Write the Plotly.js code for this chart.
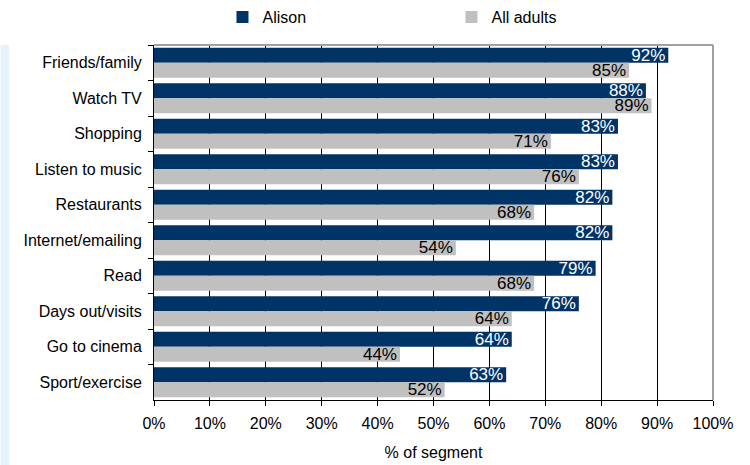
<!DOCTYPE html>
<html>
<head>
<meta charset="utf-8">
<script src="https://cdn.plot.ly/plotly-3.0.1.min.js"></script>
<style>html,body{margin:0;padding:0;background:#fff}#chart{width:750px;height:465px}</style>
</head>
<body>
<div id="chart"></div>
<script>
var categories = ["Friends/family","Watch TV","Shopping","Listen to music","Restaurants","Internet/emailing","Read","Days out/visits","Go to cinema","Sport/exercise"];
var alison = [92,88,83,83,82,82,79,76,64,63];
var allAdults = [85,89,71,76,68,54,68,64,44,52];
var seriesNames = ["Alison","All adults"];
var xTicks = [0,10,20,30,40,50,60,70,80,90,100];

var FONT = "Liberation Sans, Arial, sans-serif";

function pct(arr){ return arr.map(function(v){ return v + "%"; }); }

var traces = [
  {
    type: "bar", orientation: "h", name: seriesNames[0],
    y: categories, x: alison, text: pct(alison),
    textposition: "inside", insidetextanchor: "end", constraintext: "none", textangle: 0,
    textfont: {family: FONT, size: 17, color: "#ffffff"},
    marker: {color: "#003366", line: {width: 0}},
    hoverinfo: "none"
  },
  {
    type: "bar", orientation: "h", name: seriesNames[1],
    y: categories, x: allAdults, text: pct(allAdults),
    textposition: "inside", insidetextanchor: "end", constraintext: "none", textangle: 0,
    textfont: {family: FONT, size: 17, color: "#000000"},
    marker: {color: "#c0c0c0", line: {width: 0}},
    hoverinfo: "none"
  }
];

var layout = {
  width: 750, height: 465,
  margin: {l: 154, r: 37, t: 45, b: 65, pad: 0},
  paper_bgcolor: "#ffffff", plot_bgcolor: "#ffffff",
  font: {family: FONT, size: 16, color: "#000000"},
  barmode: "group", bargap: 0.155, bargroupgap: 0,
  uniformtext: {mode: "show", minsize: 17},
  showlegend: true,
  legend: {
    orientation: "h", xref: "paper", x: 0.1225, xanchor: "left",
    yref: "container", y: 0.963, yanchor: "middle",
    font: {family: FONT, size: 16, color: "#000000"},
    entrywidth: 184, entrywidthmode: "pixels",
    itemwidth: 30, traceorder: "normal", bgcolor: "rgba(0,0,0,0)"
  },
  xaxis: {
    range: [0, 100], tickvals: xTicks, ticktext: xTicks.map(function(v){return v + "%";}),
    showgrid: true, gridcolor: "#000000", gridwidth: 1,
    zeroline: false, showline: true, linecolor: "#000000", linewidth: 1,
    ticks: "outside", ticklen: 5, tickcolor: "#000000",
    tickfont: {family: FONT, size: 16, color: "#000000"},
    ticklabelstandoff: 4,
    title: {text: "% of segment", font: {family: FONT, size: 16, color: "#000000"}, standoff: 15},
    fixedrange: true
  },
  yaxis: {
    type: "category", autorange: "reversed",
    showgrid: false, zeroline: false,
    showline: true, linecolor: "#000000", linewidth: 1,
    ticks: "outside", ticklen: 5, tickcolor: "#000000", tickson: "boundaries",
    tickfont: {family: FONT, size: 16, color: "#000000"},
    ticklabelstandoff: 8,
    fixedrange: true
  },
  shapes: [
    {type: "rect", xref: "paper", yref: "paper", x0: -0.2745, x1: -0.259, y0: -0.183, y1: 1.0,
     fillcolor: "#e6f2fc", line: {width: 0}, layer: "below"},
    {type: "line", xref: "paper", yref: "paper", x0: 0, x1: 1, y0: 1, y1: 1,
     line: {color: "#a0a0a0", width: 2}, layer: "above"},
    {type: "line", xref: "paper", yref: "paper", x0: 1, x1: 1, y0: 0, y1: 1,
     line: {color: "#a0a0a0", width: 2}, layer: "above"}
  ]
};

Plotly.newPlot("chart", traces, layout, {displayModeBar: false, staticPlot: true});
</script>
</body>
</html>
